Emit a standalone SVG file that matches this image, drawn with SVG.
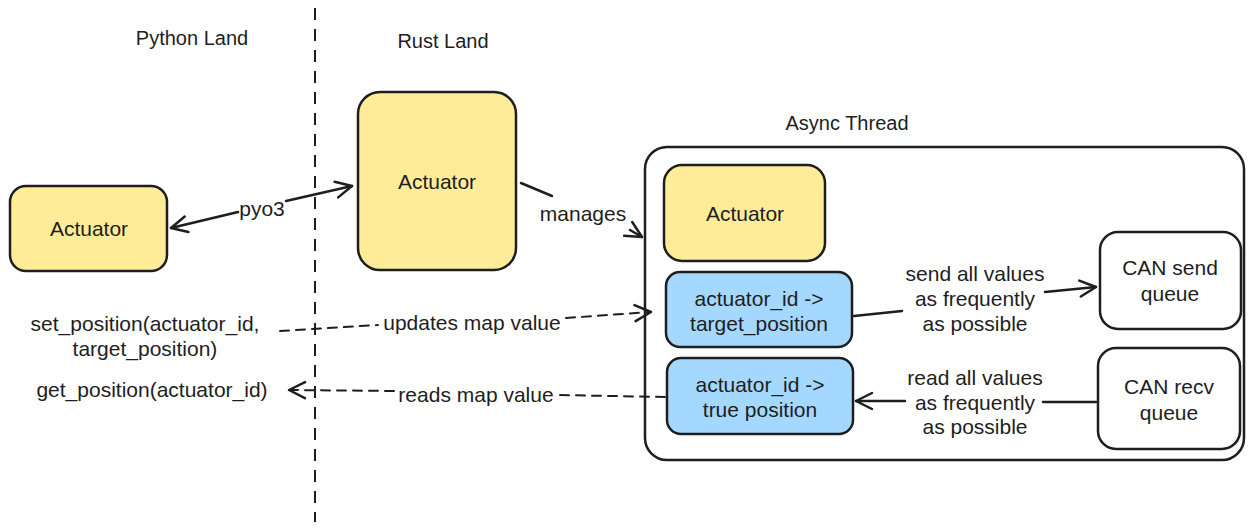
<svg xmlns="http://www.w3.org/2000/svg" width="1254" height="532" viewBox="0 0 1254 532">
<style>
text{font-family:"Liberation Sans",Arial,sans-serif;fill:#1e1e1e;text-anchor:middle;dominant-baseline:central}
.t20{font-size:21px}
.t16{font-size:20px}
.box{stroke:#1e1e1e;stroke-width:2.5}
.yel{fill:#ffec99}
.blu{fill:#a5d8ff}
.wht{fill:#ffffff}
.ln{fill:none;stroke:#1e1e1e;stroke-width:2.5;stroke-linecap:round}
.dash{stroke-dasharray:9 7;stroke-width:2}
</style>
<defs>
<marker id="ah" viewBox="0 0 20 20" refX="18" refY="10" markerWidth="20" markerHeight="20" markerUnits="userSpaceOnUse" orient="auto-start-reverse">
<path d="M2,2 L18,10 L2,18" fill="none" stroke="#1e1e1e" stroke-width="2.5" stroke-linecap="round" stroke-linejoin="round"/>
</marker>
</defs>
<rect width="1254" height="532" fill="#ffffff"/>

<g id="divider">
<line x1="315" y1="8" x2="315" y2="522" stroke="#1e1e1e" stroke-width="2" stroke-dasharray="12 9"/>
</g>
<g id="labels">
<text class="t16" x="192" y="38">Python Land</text>
<text class="t16" x="443" y="41">Rust Land</text>
<text class="t16" x="847" y="123">Async Thread</text>
<text class="t20" x="145" y="323">set_position(actuator_id,</text>
<text class="t20" x="145" y="348">target_position)</text>
<text class="t20" x="152" y="389">get_position(actuator_id)</text>
</g>

<g id="async-thread">
<rect class="box wht" x="645" y="147" width="599" height="313" rx="22"/>
</g>
<g id="py-actuator">
<rect class="box yel" x="10" y="186" width="157" height="85" rx="16"/>
<text class="t20" x="89" y="228">Actuator</text>
</g>
<g id="rust-actuator">
<rect class="box yel" x="358" y="92" width="158" height="178" rx="22"/>
<text class="t20" x="437" y="181">Actuator</text>
</g>
<g id="async-actuator">
<rect class="box yel" x="664" y="165" width="161" height="96" rx="18"/>
<text class="t20" x="745" y="213">Actuator</text>
</g>
<g id="target-map">
<rect class="box blu" x="666" y="272" width="186" height="75" rx="14"/>
<text class="t20" x="759" y="298">actuator_id -&gt;</text>
<text class="t20" x="759" y="323">target_position</text>
</g>
<g id="true-map">
<rect class="box blu" x="667" y="358" width="186" height="76" rx="14"/>
<text class="t20" x="760" y="384">actuator_id -&gt;</text>
<text class="t20" x="760" y="409">true position</text>
</g>
<g id="can-send">
<rect class="box wht" x="1100" y="232" width="141" height="97" rx="18"/>
<text class="t20" x="1170" y="267">CAN send</text>
<text class="t20" x="1170" y="293">queue</text>
</g>
<g id="can-recv">
<rect class="box wht" x="1098" y="348" width="142" height="101" rx="18"/>
<text class="t20" x="1169" y="386">CAN recv</text>
<text class="t20" x="1169" y="412">queue</text>
</g>

<g id="connectors">
<path class="ln" d="M171,228 L238,212 M286,201 L352,186" marker-start="url(#ah)" marker-end="url(#ah)"/>
<text class="t20" x="262" y="208">pyo3</text>
<path class="ln" d="M521,183 L552,196 M630,230 L642,237" marker-end="url(#ah)"/>
<text class="t20" x="583" y="213">manages</text>
<path class="ln dash" d="M280,331 L378,325 M566,318 L651,312" marker-end="url(#ah)"/>
<text class="t20" x="472" y="322">updates map value</text>
<path class="ln dash" d="M665,397 L558,395 M394,391 L289,390" marker-end="url(#ah)"/>
<text class="t20" x="476" y="394">reads map value</text>
<path class="ln" d="M854,316 L902,311 M1045,292 L1096,287" marker-end="url(#ah)"/>
<text class="t20" x="975" y="273">send all values</text>
<text class="t20" x="975" y="298">as frequently</text>
<text class="t20" x="975" y="323">as possible</text>
<path class="ln" d="M1096,402 L1043,402 M905,401 L856,401" marker-end="url(#ah)"/>
<text class="t20" x="975" y="377">read all values</text>
<text class="t20" x="975" y="402">as frequently</text>
<text class="t20" x="975" y="426">as possible</text>
</g>
</svg>
